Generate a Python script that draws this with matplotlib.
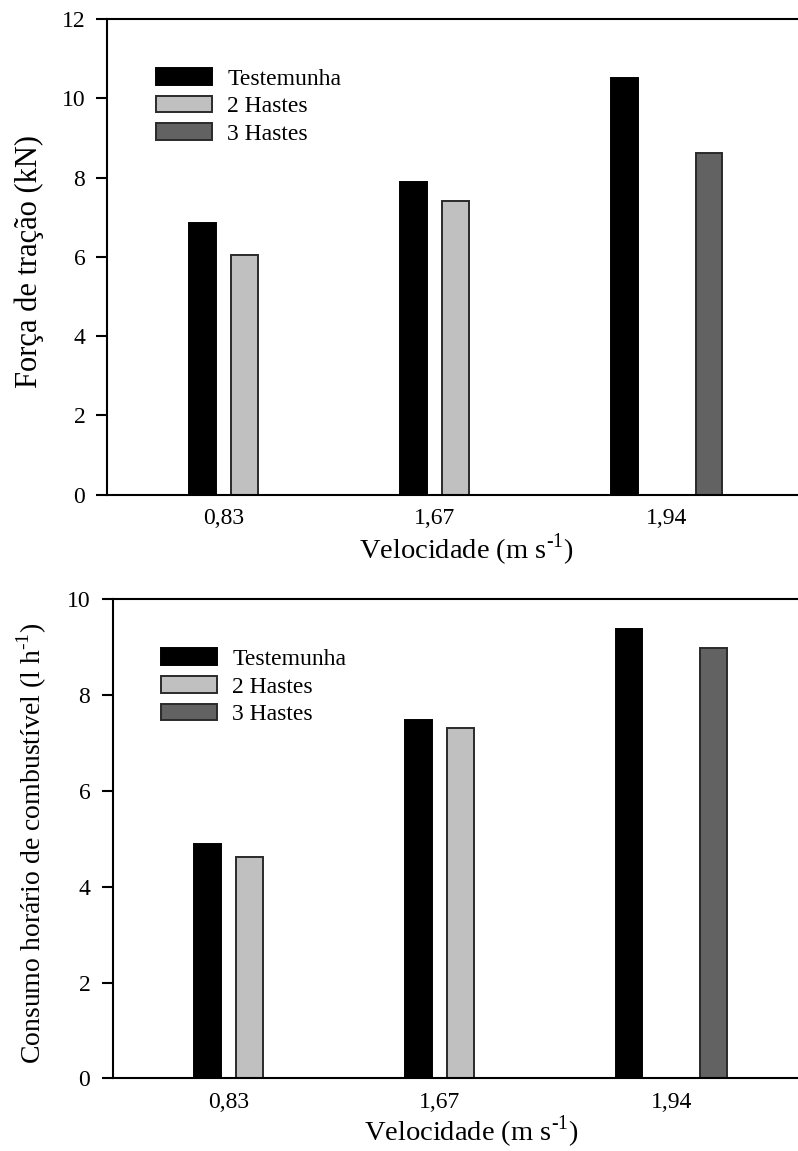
import numpy as np
import matplotlib
matplotlib.use('Agg')
import matplotlib.pyplot as plt

plt.rcParams['font.family'] = ['Liberation Serif', 'DejaVu Serif']
plt.rcParams['mathtext.fontset'] = 'custom'
plt.rcParams['mathtext.rm'] = 'Liberation Serif'

velocidades = ['0,83', '1,67', '1,94']
series = ['Testemunha', '2 Hastes', '3 Hastes']

forca_test = [6.86, 7.88, 10.50]
forca_2h = [6.04, 7.41, np.nan]
forca_3h = [np.nan, np.nan, 8.62]

consumo_test = [4.90, 7.48, 9.37]
consumo_2h = [4.61, 7.31, np.nan]
consumo_3h = [np.nan, np.nan, 8.98]

cores = ['#000000', '#c0c0c0', '#626262']
bordas = ['#000000', '#2a2a2a', '#2a2a2a']

sup = r'$^{\mathregular{\text{-}1}}$'


def barras(ax, valores, ylim, yticks, ylabel, ylabel_size, xlabel_y):
    x = np.arange(len(velocidades))
    slot = 0.2
    largura = 0.126
    handles = []
    pos_ok = [[] for _ in x]
    for i, (v, nome) in enumerate(zip(valores, series)):
        pos = x + i * slot
        h = ax.bar(pos, v, largura, color=cores[i], edgecolor=bordas[i],
                   linewidth=1.4, label=nome)
        handles.append(h)
        for g in x:
            if not np.isnan(v[g]):
                pos_ok[g].append(pos[g])
    # tick labels at the middle of the bars present in each group
    ax.set_xticks([np.mean(p) for p in pos_ok])
    ax.set_xticklabels(velocidades)
    ax.set_xlim(-0.45, 2.95)
    ax.set_ylim(*ylim)
    ax.set_yticks(yticks)
    ax.spines['right'].set_visible(False)
    for s in ['left', 'bottom', 'top']:
        ax.spines[s].set_linewidth(1.5)
    ax.tick_params(axis='y', direction='out', length=8, width=1.5,
                   labelsize=17, pad=8)
    ax.tick_params(axis='x', length=0, labelsize=17, pad=10)
    ax.set_xlabel('Velocidade (m s' + sup + ')', fontsize=20.5)
    ax.set_ylabel(ylabel, fontsize=ylabel_size)
    ax.xaxis.set_label_coords(0.5, xlabel_y)
    ax.yaxis.set_label_coords(-0.088, 0.49)
    ax.legend(handles=handles, loc='upper left', bbox_to_anchor=(0.0676, 0.897),
              frameon=False, fontsize=17, borderpad=0, borderaxespad=0,
              handlelength=2.37, handleheight=0.72, handletextpad=0.65,
              labelspacing=0.25)


fig = plt.figure(figsize=(7.98, 11.51), dpi=100)
ax1 = fig.add_axes([0.1347, 0.5703, 0.899, 0.4132])
ax2 = fig.add_axes([0.1410, 0.0630, 0.8985, 0.4166])

barras(ax1, [forca_test, forca_2h, forca_3h], (0, 12), range(0, 13, 2),
       'Força de tração (kN)', 22, -0.078)
barras(ax2, [consumo_test, consumo_2h, consumo_3h], (0, 10), range(0, 11, 2),
       'Consumo horário de combustível (l h' + sup + ')', 20, -0.073)

plt.savefig('out.png', dpi=100)
